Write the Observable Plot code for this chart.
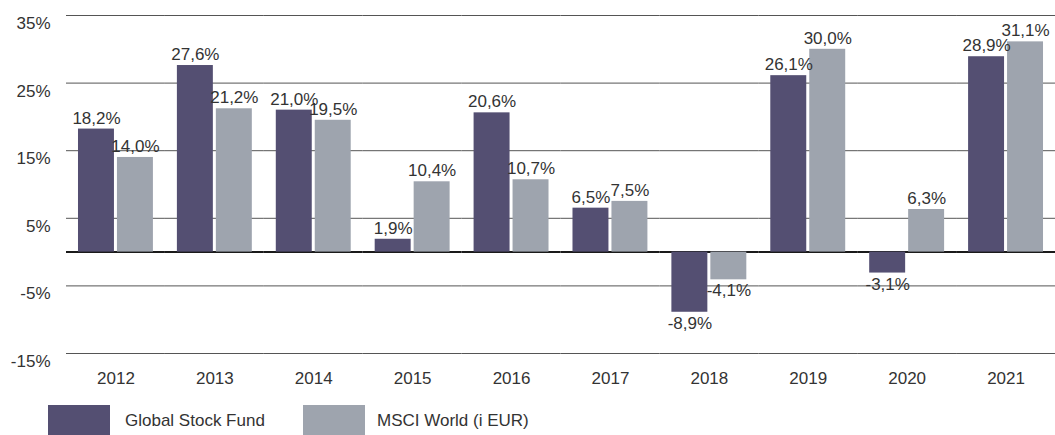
<!DOCTYPE html>
<html>
<head>
<meta charset="utf-8">
<script src="https://cdn.jsdelivr.net/npm/d3@7"></script>
<script src="https://cdn.jsdelivr.net/npm/@observablehq/plot@0.6"></script>
<style>
  body { margin: 0; background: #fff; font-family: "Liberation Sans", Arial, sans-serif; color: #333; }
  #legend { display: flex; align-items: center; height: 32px; margin-top: 15px; font-size: 17px; }
  .sw { width: 62px; height: 32px; }
</style>
</head>
<body>
<div id="chart"></div>
<div id="legend"></div>
<script>
const years = ["2012","2013","2014","2015","2016","2017","2018","2019","2020","2021"];
const seriesNames = ["Global Stock Fund", "MSCI World (i EUR)"];
const fundValues = [18.2, 27.6, 21.0, 1.9, 20.6, 6.5, -8.9, 26.1, -3.1, 28.9];
const msciValues = [14.0, 21.2, 19.5, 10.4, 10.7, 7.5, -4.1, 30.0, 6.3, 31.1];
const yTicks = [-15, -5, 5, 15, 25, 35];
const colors = ["#544f72", "#9ea4ae"];

const data = [];
years.forEach((yr, i) => {
  data.push({year: yr, series: seriesNames[0], value: fundValues[i]});
  data.push({year: yr, series: seriesNames[1], value: msciValues[i]});
});
const fmt = v => v.toFixed(1).replace(".", ",") + "%";

const chart = Plot.plot({
  width: 1055,
  height: 390,
  marginLeft: 66,
  marginRight: 0,
  marginTop: 15,
  marginBottom: 37,
  style: {fontFamily: "'Liberation Sans', Arial, sans-serif", fontSize: "17px", color: "#333", background: "#fff"},
  fx: {domain: years, padding: 0, round: false, label: null},
  x: {domain: seriesNames, paddingInner: 0.077, paddingOuter: 0.3077, round: false, axis: null},
  y: {domain: [-15, 35], label: null},
  color: {domain: seriesNames, range: colors},
  marks: [
    Plot.gridY(yTicks, {stroke: "#555", strokeOpacity: 1, strokeWidth: 1}),
    Plot.axisY(yTicks, {tickSize: 0, tickPadding: 16, dy: 8, tickFormat: d => d + "%", label: null, fill: "#333"}),
    Plot.axisFx({anchor: "bottom", tickSize: 0, tickPadding: 18, label: null, fill: "#333"}),
    Plot.ruleY([0], {stroke: "#1a1a1a", strokeWidth: 2}),
    Plot.barY(data, {fx: "year", x: "series", y: "value", fill: "series"}),
    Plot.text(data.filter(d => d.value >= 0), {fx: "year", x: "series", y: "value", text: d => fmt(d.value), dy: -11, lineAnchor: "middle", fill: "#333"}),
    Plot.text(data.filter(d => d.value < 0), {fx: "year", x: "series", y: "value", text: d => fmt(d.value), dy: 11, lineAnchor: "middle", fill: "#333"})
  ]
});
document.getElementById("chart").appendChild(chart);

const legend = document.getElementById("legend");
seriesNames.forEach((name, i) => {
  const item = document.createElement("div");
  item.style.display = "flex";
  item.style.alignItems = "center";
  item.style.position = "absolute";
  item.style.left = (i === 0 ? 48 : 303) + "px";
  const sw = document.createElement("div");
  sw.className = "sw";
  sw.style.background = colors[i];
  const t = document.createElement("span");
  t.textContent = name;
  t.style.marginLeft = (i === 0 ? 15 : 12) + "px";
  item.appendChild(sw);
  item.appendChild(t);
  legend.appendChild(item);
});
</script>
</body>
</html>
